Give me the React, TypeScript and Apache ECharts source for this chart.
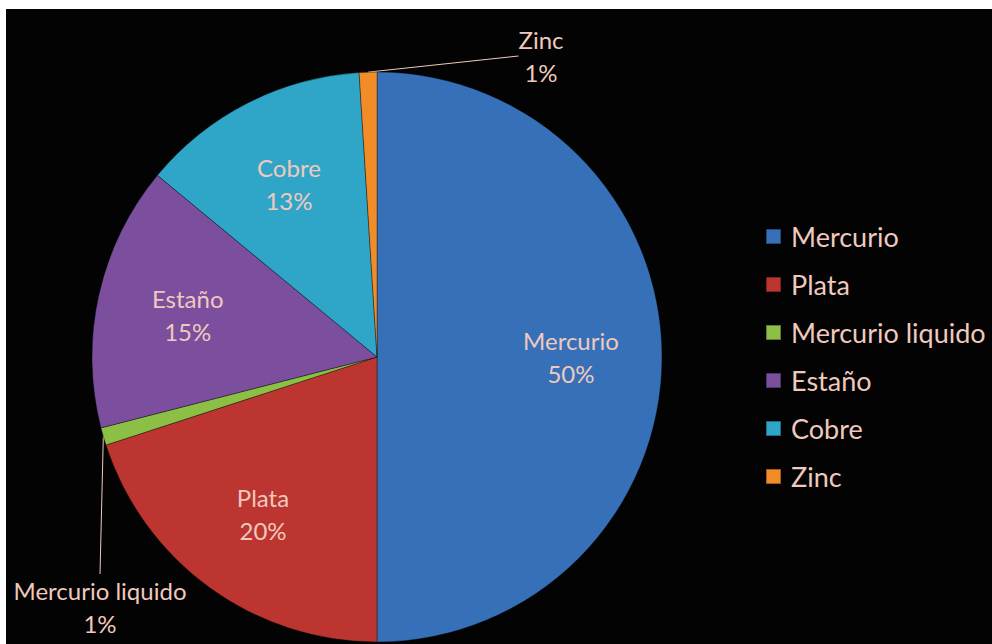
import React, { useEffect, useRef } from "react";
import * as echarts from "echarts";

const categories = ["Mercurio", "Plata", "Mercurio liquido", "Estaño", "Cobre", "Zinc"];
const values = [50, 20, 1, 15, 13, 1];
const colors = ["#3670b8", "#bd3530", "#8cbf46", "#7b4f9e", "#2fa6c8", "#f28c28"];
const outsideNames = ["Zinc", "Mercurio liquido"];

const TEXT = "#efc9bd";
const FONT = "Lato, 'Open Sans', sans-serif";
const CX = 377;
const CY = 357;
const R = 285;

export default function App() {
  const ref = useRef<HTMLDivElement>(null);
  useEffect(() => {
    document.body.style.margin = "0";
    const chart = echarts.init(ref.current!, null, { renderer: "svg" });
    const data = categories.map((name, i) => ({
      name,
      value: values[i],
      itemStyle: { color: colors[i] },
    }));
    const labelData = categories.map((name, i) => {
      const outside = outsideNames.includes(name);
      return {
        name,
        value: values[i],
        label: outside
          ? { position: "outside", show: true, overflow: "none" }
          : { position: "inside", show: true },
        labelLine: { show: outside },
      };
    });
    chart.setOption({
      animation: false,
      backgroundColor: "#ffffff",
      graphic: [
        {
          type: "rect",
          z: -10,
          silent: true,
          shape: { x: 6, y: 9, width: 986, height: 635 },
          style: { fill: "#030303" },
        },
      ],
      legend: {
        orient: "vertical",
        left: 760,
        top: 218,
        itemWidth: 15,
        itemHeight: 15,
        itemGap: 21,
        icon: "rect",
        data: categories,
        textStyle: {
          color: TEXT,
          fontFamily: FONT,
          fontSize: 27,
          lineHeight: 27,
          padding: [0, 0, 0, 5],
        },
      },
      series: [
        {
          type: "pie",
          center: [CX, CY],
          radius: [0, R],
          startAngle: 90,
          clockwise: true,
          silent: true,
          label: { show: false },
          labelLine: { show: false },
          itemStyle: { borderColor: "rgba(0,0,0,0.35)", borderWidth: 1 },
          data,
        },
        {
          type: "pie",
          center: [CX, CY],
          radius: [R * 0.34, R],
          startAngle: 90,
          clockwise: true,
          silent: true,
          itemStyle: { color: "rgba(0,0,0,0)" },
          label: {
            show: true,
            formatter: "{b}\n{d}%",
            color: TEXT,
            fontFamily: FONT,
            fontSize: 24,
            lineHeight: 33,
            align: "center",
          },
          labelLine: {
            show: true,
            length: 20,
            length2: 0,
            lineStyle: { color: TEXT, width: 1 },
          },
          labelLayout: (params: any) => {
            const name = categories[params.dataIndex];
            if (name === "Zinc") {
              return { x: 541, y: 56, align: "center", verticalAlign: "middle" };
            }
            if (name === "Mercurio liquido") {
              return { x: 100, y: 607, align: "center", verticalAlign: "middle" };
            }
            return {};
          },
          data: labelData,
        },
      ],
    });
    return () => chart.dispose();
  }, []);
  return <div ref={ref} style={{ width: 992, height: 644 }} />;
}
